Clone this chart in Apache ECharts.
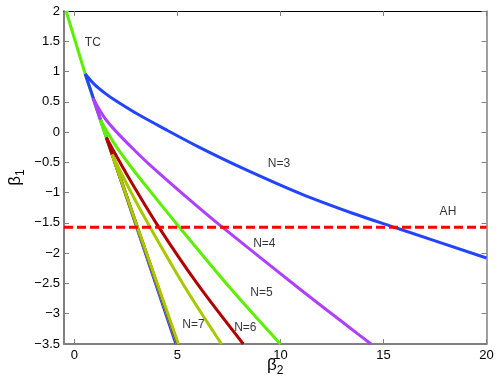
<!DOCTYPE html>
<html>
<head>
<meta charset="utf-8">
<script src="https://cdn.jsdelivr.net/npm/echarts@6/dist/echarts.min.js"></script>
<style>
  html, body { margin: 0; padding: 0; background: #fff; }
  #main { width: 498px; height: 389px; }
</style>
</head>
<body>
<div id="main"></div>
<script>
// curves, [beta2, beta1]
var tcLine = [[-0.4, 2], [0.53, 0.96], [1.26, 0.2]];

var n3Steep = [[0.53, 0.96], [4.93, -3.5]];
var n3Main = [[0.53, 0.96], [1.0, 0.78], [1.5, 0.64], [2.0, 0.52], [3.0, 0.31], [4.5, 0.03],
  [6.0, -0.24], [8.0, -0.57], [11.0, -1.02], [13.5, -1.34], [15.6, -1.58], [20, -2.08]];

var n4Steep = [[0.91, 0.56], [5.0, -3.5]];
var n4Main = [[0.91, 0.56], [1.2, 0.38], [1.5, 0.22], [2.0, 0.02], [2.86, -0.28], [3.69, -0.55],
  [5.53, -1.1], [7.0, -1.52], [10.97, -2.6], [13.4, -3.24], [14.4, -3.5]];

var n5Steep = [[1.26, 0.2], [5.0, -3.5]];
var n5Main = [[1.26, 0.2], [2.0, -0.22], [2.72, -0.56], [3.69, -0.98], [5.0, -1.53],
  [7.5, -2.55], [10, -3.5]];

var n6Steep = [[1.55, -0.09], [5.02, -3.5]];
var n6Main = [[1.55, -0.09], [2.5, -0.67], [4.1, -1.57], [6.0, -2.52], [8.2, -3.5]];

var n7Steep = [[1.83, -0.37], [5.05, -3.5]];
var n7Main = [[1.83, -0.37], [2.7, -0.96], [3.69, -1.58], [5.4, -2.58], [7.14, -3.5]];

var ahLevel = -Math.PI / 2;
var ahLine = [[-0.5, ahLevel], [20, ahLevel]];

var xTicks = [0, 5, 10, 15, 20];

// text annotations, [beta2, beta1, text]
var notes = [
  [0.9, 1.47, 'TC'],
  [9.93, -0.53, 'N=3'],
  [9.22, -1.84, 'N=4'],
  [9.08, -2.65, 'N=5'],
  [8.3, -3.23, 'N=6'],
  [5.78, -3.18, 'N=7'],
  [18.13, -1.32, 'AH']
];

var cGreen = '#5cf000', cBlue = '#2244ff', cPurple = '#b040ff',
    cRed = '#b00000', cOlive = '#a8c800';

function curve(data, color, smooth) {
  return {
    type: 'line',
    data: data,
    showSymbol: false,
    smooth: smooth ? 0.3 : false,
    lineStyle: { color: color, width: 3 },
    silent: true
  };
}

var font = 'Liberation Sans, Arial, sans-serif';
var minus = function (v) { return String(v).replace('-', '\u2212'); };
var nameRich = {
  b: { fontSize: 17, fontFamily: font, color: '#000', lineHeight: 22 },
  s: { fontSize: 12, fontFamily: font, color: '#000', lineHeight: 22, padding: [12, 0, 0, 0] }
};

var myChart = echarts.init(document.getElementById('main'));
var option = {
  animation: false,
  backgroundColor: '#fff',
  grid: { left: 64, top: 11, right: 11.5, bottom: 45, outerBoundsMode: 'none', containLabel: false },
  xAxis: [{
    type: 'value',
    min: -0.5,
    max: 20,
    position: 'bottom',
    name: '{b|\u03b2}{s|2}',
    nameLocation: 'middle',
    nameGap: 10,
    nameMoveOverlap: false,
    nameTextStyle: { rich: nameRich },
    axisLine: { onZero: false, lineStyle: { color: '#808080', width: 2 } },
    axisTick: { inside: true, length: 5, customValues: xTicks, lineStyle: { color: '#808080' } },
    axisLabel: { customValues: xTicks, margin: 5, fontSize: 13, fontFamily: font, color: '#000' },
    splitLine: { show: false }
  }, {
    type: 'value',
    min: -0.5,
    max: 20,
    position: 'top',
    axisLine: { show: true, onZero: false, lineStyle: { color: '#000', width: 1 } },
    axisTick: { inside: true, length: 5, customValues: xTicks, lineStyle: { color: '#808080' } },
    axisLabel: { show: false },
    splitLine: { show: false }
  }],
  yAxis: [{
    type: 'value',
    min: -3.5,
    max: 2,
    interval: 0.5,
    position: 'left',
    name: '{b|\u03b2}{s|1}',
    nameLocation: 'middle',
    nameRotate: 90,
    nameGap: 38,
    nameMoveOverlap: false,
    nameTextStyle: { rich: nameRich },
    axisLine: { onZero: false, lineStyle: { color: '#808080', width: 2 } },
    axisTick: { inside: true, length: 5, lineStyle: { color: '#808080' } },
    axisLabel: { margin: 4, fontSize: 13, fontFamily: font, color: '#000', formatter: minus },
    splitLine: { show: false }
  }, {
    type: 'value',
    min: -3.5,
    max: 2,
    interval: 0.5,
    position: 'right',
    axisLine: { show: true, onZero: false, lineStyle: { color: '#808080', width: 1.5 } },
    axisTick: { inside: true, length: 5, lineStyle: { color: '#808080' } },
    axisLabel: { show: false },
    splitLine: { show: false }
  }],
  series: [
    curve(tcLine, cGreen, false),
    curve(n3Steep, cBlue, false),
    curve(n3Main, cBlue, true),
    curve(n4Steep, cPurple, false),
    curve(n4Main, cPurple, true),
    curve(n5Steep, cGreen, false),
    curve(n5Main, cGreen, true),
    curve(n6Steep, cRed, false),
    curve(n6Main, cRed, true),
    curve(n7Steep, cOlive, false),
    curve(n7Main, cOlive, true),
    {
      type: 'line',
      data: ahLine,
      showSymbol: false,
      lineStyle: { color: '#ff0000', width: 3, type: [9, 4] },
      silent: true
    },
    {
      type: 'scatter',
      data: notes,
      symbolSize: 1,
      itemStyle: { color: 'rgba(0,0,0,0)' },
      silent: true,
      label: {
        show: true,
        position: 'inside',
        formatter: function (p) { return p.data[2]; },
        color: '#000',
        fontSize: 12,
        fontFamily: font
      }
    }
  ]
};
myChart.setOption(option);
</script>
</body>
</html>
